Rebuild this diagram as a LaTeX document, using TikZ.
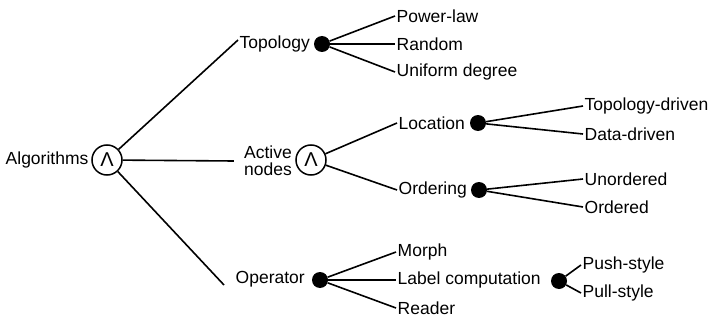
\documentclass[tikz,border=0pt]{standalone}
\usepackage{fontspec}
\setmainfont{Liberation Sans}
\begin{document}
\begin{tikzpicture}[x=1pt,y=-1pt,
  every node/.style={font=\fontsize{17.5}{19}\selectfont},
  txt/.style={anchor=west,inner xsep=1.5pt,inner ysep=0pt},
  andnode/.style={circle,draw,line width=1.5pt,minimum size=30pt,inner sep=0pt,
    font=\fontsize{20}{20}\selectfont},
  dotnode/.style={circle,fill,minimum size=16pt,inner sep=0pt},
  conn/.style={line width=1.6pt}]
\useasboundingbox (0,0) rectangle (710,321);

% root
\node[txt] (alg) at (4,160) {Algorithms};
\node[andnode] (and1) at (107,160) {Λ};

% topology branch
\node[txt] (topo) at (238,44) {Topology};
\node[dotnode] (d1) at (322,44) {};
\node[txt] (pl) at (395,16) {Power-law};
\node[txt] (rnd) at (395,44) {Random};
\node[txt] (uni) at (395,72) {Uniform degree};

% active nodes branch
\node[align=center,inner sep=0pt] (act) at (268,161) {Active\\[-2pt]nodes};
\node[andnode] (and2) at (311,160) {Λ};
\node[txt] (loc) at (397,123) {Location};
\node[dotnode] (d2) at (478,123) {};
\node[txt] (ord) at (397,190) {Ordering};
\node[dotnode] (d3) at (479,190) {};
\node[txt] (td) at (583,106) {Topology-driven};
\node[txt] (dd) at (583,134) {Data-driven};
\node[txt] (un) at (583,179) {Unordered};
\node[txt] (od) at (583,207) {Ordered};

% operator branch
\node[txt] (op) at (234,279) {Operator};
\node[dotnode] (d4) at (320,280) {};
\node[txt] (mo) at (396,252) {Morph};
\node[txt] (lc) at (396,280) {Label computation};
\node[txt] (rd) at (396,308) {Reader};
\node[dotnode] (d5) at (559,281) {};
\node[txt] (ps) at (581,265) {Push-style};
\node[txt] (pu) at (581,293) {Pull-style};

% connectors
\draw[conn] (and1) -- ([yshift=4pt]topo.west);
\draw[conn] (and1) -- ([xshift=-10pt]act.west);
\draw[conn] (and1) -- ([xshift=-10pt,yshift=-6pt]op.west);
\draw[conn] (d1) -- (pl.west);
\draw[conn] (d1) -- (rnd.west);
\draw[conn] (d1) -- (uni.west);
\draw[conn] (and2) -- (loc.west);
\draw[conn] (and2) -- (ord.west);
\draw[conn] (d2) -- (td.west);
\draw[conn] (d2) -- (dd.west);
\draw[conn] (d3) -- (un.west);
\draw[conn] (d3) -- (od.west);
\draw[conn] (d4) -- (mo.west);
\draw[conn] (d4) -- (lc.west);
\draw[conn] (d4) -- (rd.west);
\draw[conn] (d5) -- (ps.west);
\draw[conn] (d5) -- (pu.west);
\end{tikzpicture}
\end{document}
